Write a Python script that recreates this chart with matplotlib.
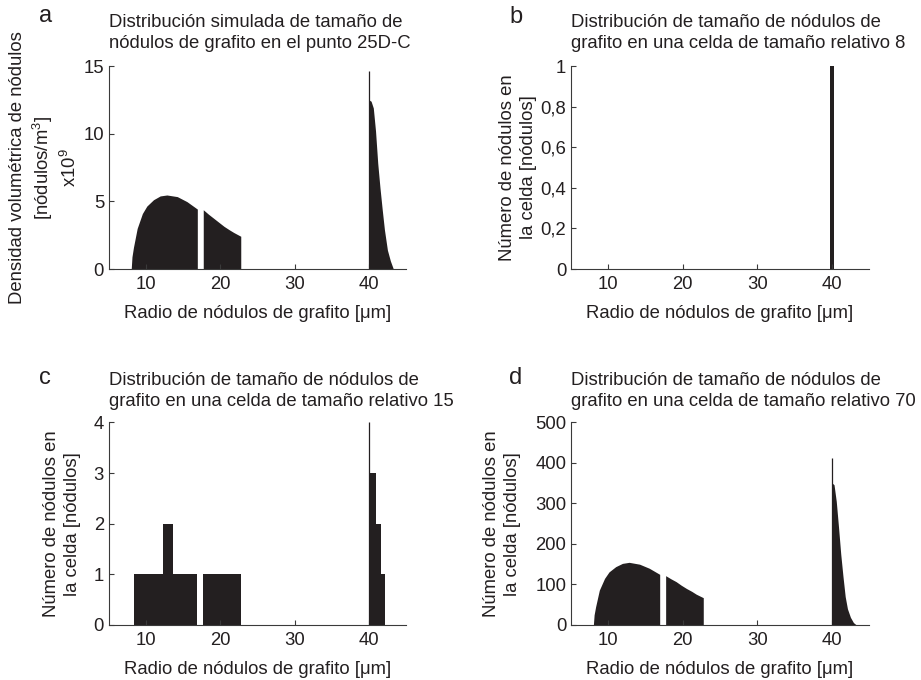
import numpy as np
import matplotlib.pyplot as plt

plt.rcParams['font.family'] = ['Liberation Sans', 'DejaVu Sans']
plt.rcParams['mathtext.default'] = 'regular'

INK = '#231f20'
AXIS = '#3a3a3a'
FS = 13.3

x_izq = [8.0, 8.1, 8.3, 8.8, 9.5, 10.1, 11.0, 11.9, 12.8, 14.2, 15.5, 16.9]
x_med = [17.7, 18.4, 19.1, 19.8, 20.5, 21.2, 21.8, 22.75]
x_pico = [40.0, 40.3, 40.6, 40.9, 41.2, 41.5, 41.8, 42.1, 42.5, 42.9, 43.3]

# (a) densidad volumetrica simulada, x10^9 nodulos/m3
a_izq = [0, 0.9, 1.6, 3.0, 4.1, 4.65, 5.12, 5.4, 5.47, 5.35, 4.98, 4.43]
a_med = [4.38, 4.05, 3.75, 3.45, 3.15, 2.9, 2.7, 2.42]
a_pico = [12.5, 12.4, 11.9, 10.2, 7.8, 6.0, 4.4, 2.9, 1.4, 0.6, 0]
a_espiga = 14.6

# (b) celda de tamano relativo 8
b_x = [40.0]
b_n = [1]
b_ancho = 0.6

# (c) celda de tamano relativo 15: bordes izquierdos, anchos y cuentas
c_izq = [8.43, 12.28, 13.62, 17.68, 40.0, 41.0, 41.57]
c_ancho = [3.85, 1.34, 3.26, 5.05, 1.0, 0.57, 0.67]
c_n = [1, 2, 1, 1, 3, 2, 1]
c_espiga = 4

# (d) celda de tamano relativo 70
d_izq = [0, 25, 45, 86, 115, 131, 144, 152, 154.6, 150, 140, 125]
d_med = [121.7, 114, 107, 98, 90, 83, 76, 67.4]
d_pico = [351, 346, 305, 242, 175, 120, 70, 40, 19, 6, 0]
d_espiga = 411

xticks = [10, 20, 30, 40]
b_yticks = [0, 0.2, 0.4, 0.6, 0.8, 1]
b_ylabels = ['0', '0,2', '0,4', '0,6', '0,8', '1']

xlabel = 'Radio de nódulos de grafito [μm]'
ylab_celda = 'Número de nódulos en\nla celda [nódulos]'


def estilo(ax, ymax, yticks):
    ax.set_xlim(5, 45)
    ax.set_ylim(0, ymax)
    ax.set_xticks(xticks)
    ax.set_yticks(yticks)
    for s in ['top', 'right']:
        ax.spines[s].set_visible(False)
    for s in ['left', 'bottom']:
        ax.spines[s].set_color(AXIS)
        ax.spines[s].set_linewidth(0.8)
    ax.tick_params(direction='in', length=3.5, width=0.8, color=AXIS,
                   labelcolor=INK, labelsize=FS)
    ax.tick_params(axis='y', pad=3.5)
    ax.tick_params(axis='x', pad=5)
    ax.set_xlabel(xlabel, fontsize=FS, color=INK, labelpad=9)


def titulo(ax, txt, pad):
    ax.set_title(txt, loc='left', fontsize=FS, color=INK, pad=pad,
                 linespacing=1.3)


def curva(ax, izq, med, pico, espiga):
    ax.fill_between(x_izq, izq, 0, color=INK, lw=0)
    ax.fill_between(x_med, med, 0, color=INK, lw=0)
    ax.fill_between(x_pico, pico, 0, color=INK, lw=0)
    ax.vlines(x_pico[0], 0, espiga, color=INK, lw=0.9)


fig = plt.figure(figsize=(9.21, 6.8), dpi=100)

ax_a = fig.add_axes([0.1183, 0.6044, 0.3225, 0.2985])
ax_b = fig.add_axes([0.62, 0.6044, 0.3236, 0.2985])
ax_c = fig.add_axes([0.1183, 0.0809, 0.3225, 0.298])
ax_d = fig.add_axes([0.62, 0.0809, 0.3236, 0.298])

# a
curva(ax_a, a_izq, a_med, a_pico, a_espiga)
estilo(ax_a, 15, [0, 5, 10, 15])
titulo(ax_a, 'Distribución simulada de tamaño de\nnódulos de grafito en el punto 25D-C', 13)
ax_a.set_ylabel('Densidad volumétrica de nódulos\n[nódulos/m$^3$]\nx10$^9$',
                fontsize=FS, color=INK, labelpad=2.5, linespacing=1.3)

# b
ax_b.bar(b_x, b_n, width=b_ancho, color=INK, lw=0)
estilo(ax_b, 1, b_yticks)
ax_b.set_yticklabels(b_ylabels)
titulo(ax_b, 'Distribución de tamaño de nódulos de\ngrafito en una celda de tamaño relativo 8', 13)
ax_b.set_ylabel(ylab_celda, fontsize=FS, color=INK, labelpad=2.5, linespacing=1.3)

# c
ax_c.bar(c_izq, c_n, width=c_ancho, align='edge', color=INK, lw=0)
ax_c.vlines(c_izq[4], 0, c_espiga, color=INK, lw=0.9)
estilo(ax_c, 4, [0, 1, 2, 3, 4])
titulo(ax_c, 'Distribución de tamaño de nódulos de\ngrafito en una celda de tamaño relativo 15', 12)
ax_c.set_ylabel(ylab_celda, fontsize=FS, color=INK, labelpad=9, linespacing=1.3)

# d
curva(ax_d, d_izq, d_med, d_pico, d_espiga)
estilo(ax_d, 500, [0, 100, 200, 300, 400, 500])
titulo(ax_d, 'Distribución de tamaño de nódulos de\ngrafito en una celda de tamaño relativo 70', 12)
ax_d.set_ylabel(ylab_celda, fontsize=FS, color=INK, labelpad=10, linespacing=1.3)

for letra, x, y in [('a', 0.049, 0.9676), ('b', 0.560, 0.9662),
                    ('c', 0.049, 0.436), ('d', 0.560, 0.436)]:
    fig.text(x, y, letra, fontsize=17, color=INK, ha='center', va='baseline')

fig.savefig('out.png', dpi=100, facecolor='white')
